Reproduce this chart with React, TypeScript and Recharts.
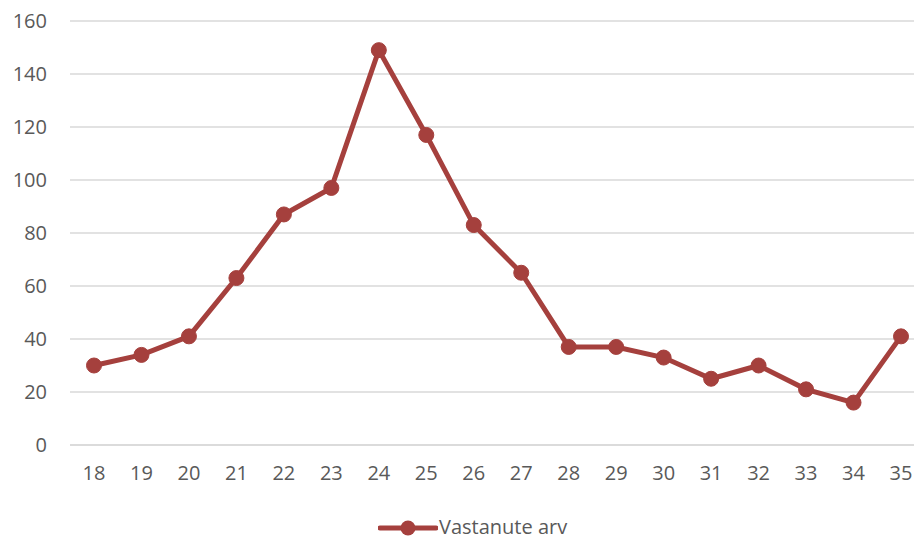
import React from "react";
import { LineChart, Line, XAxis, YAxis, CartesianGrid, Legend } from "recharts";

const categories = ["18","19","20","21","22","23","24","25","26","27","28","29","30","31","32","33","34","35"];
const values = [30, 34, 41, 63, 87, 97, 149, 117, 83, 65, 37, 37, 33, 25, 30, 21, 16, 41];
const yTicks = [0, 20, 40, 60, 80, 100, 120, 140, 160];
const seriesName = "Vastanute arv";

const data = categories.map((c, i) => ({ cat: c, value: values[i] }));

const COLOR = "#A5403D";
const FONT = "'Open Sans', sans-serif";
const FS = 20;

const LegendContent = () => (
  <div style={{ position: "relative", width: 930, height: 30, fontFamily: FONT }}>
    <svg width={60} height={30} style={{ position: "absolute", left: 378, top: 0 }}>
      <line x1={2} y1={15} x2={58} y2={15} stroke={COLOR} strokeWidth={5} strokeLinecap="round" />
      <circle cx={30} cy={15} r={7.5} fill={COLOR} />
    </svg>
    <span style={{ position: "absolute", left: 439, top: 0, fontSize: FS, color: "#595959", lineHeight: "28px", whiteSpace: "nowrap" }}>
      {seriesName}
    </span>
  </div>
);

export default function App() {
  return (
    <div style={{ position: "fixed", left: 0, top: 0, width: 914, height: 540, overflow: "hidden", background: "#fff" }}>
      <LineChart width={930} height={540} data={data} margin={{ top: 21, right: 5, left: 0, bottom: 35 }}>
        <CartesianGrid vertical={false} stroke="#D9D9D9" strokeWidth={1.5} />
        <XAxis
          dataKey="cat"
          axisLine={{ stroke: "#D9D9D9", strokeWidth: 1.5 }}
          tickLine={false}
          tickSize={0}
          tickMargin={21}
          height={30}
          interval={0}
          padding={{ left: 24, right: 24 }}
          tick={{ fill: "#595959", fontSize: FS, fontFamily: FONT }}
        />
        <YAxis
          domain={[0, 160]}
          ticks={yTicks}
          width={70}
          axisLine={false}
          tickLine={false}
          tickSize={0}
          tickMargin={23}
          tick={{ fill: "#595959", fontSize: FS, fontFamily: FONT }}
        />
        <Legend
          verticalAlign="bottom"
          height={30}
          content={<LegendContent />}
          wrapperStyle={{ top: 513, left: 0, bottom: "auto", width: 930 }}
        />
        <Line
          type="linear"
          dataKey="value"
          name={seriesName}
          stroke={COLOR}
          strokeWidth={5}
          dot={{ r: 7.5, fill: COLOR, stroke: COLOR, strokeWidth: 1 }}
          activeDot={false}
          isAnimationActive={false}
        />
      </LineChart>
    </div>
  );
}
